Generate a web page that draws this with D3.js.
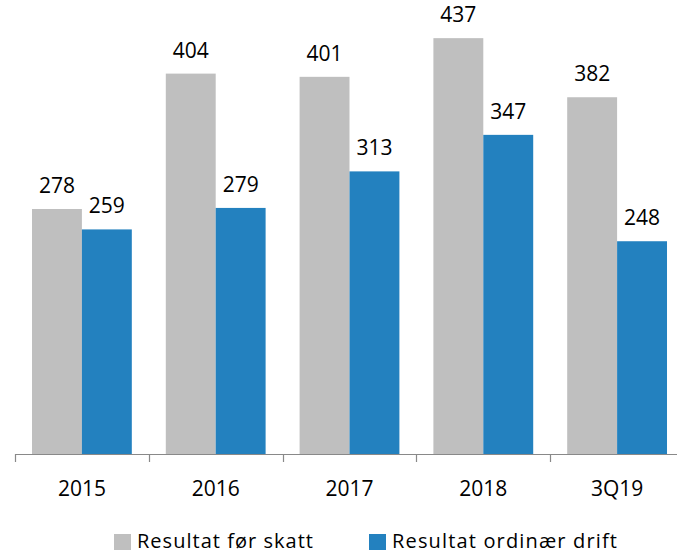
<!DOCTYPE html>
<html>
<head>
<meta charset="utf-8">
<script src="https://cdn.jsdelivr.net/npm/d3@7"></script>
<style>
  body { margin: 0; background: #fff; }
  svg { display: block; }
  text { font-family: "Open Sans", sans-serif; fill: #000; }
</style>
</head>
<body>
<div id="chart"></div>
<script>
// Data
const categories = ["2015", "2016", "2017", "2018", "3Q19"]
const resultatForSkatt = [278, 404, 401, 437, 382]
const resultatOrdinaerDrift = [259, 279, 313, 347, 248]
const seriesNames = ["Resultat før skatt", "Resultat ordinær drift"]
const seriesColors = ["#bfbfbf", "#2381bf"]

const width = 677
const height = 554

// Plot area: the value axis is not drawn, starts around 50
const xRange = [15, 684]
const baseline = 454

const svg = d3.select("#chart")
    .append("svg")
    .attr("width", width)
    .attr("height", height)

const x = d3.scaleBand()
    .domain(categories)
    .range(xRange)
    .paddingInner(0.254)
    .paddingOuter(0.127)

const xSub = d3.scaleBand()
    .domain([0, 1])
    .range([0, x.bandwidth()])

const y = d3.scaleLinear()
    .domain([50, 472.5])
    .range([baseline, 0])

const rows = categories.map((c, i) => ({
    cat: c,
    values: [resultatForSkatt[i], resultatOrdinaerDrift[i]]
}))

const groups = svg.append("g")
    .selectAll("g")
    .data(rows)
    .join("g")
    .attr("transform", d => translate(x(d.cat), 0))

groups.selectAll("rect")
    .data(d => d.values.map((v, s) => ({ v, s })))
    .join("rect")
    .attr("x", d => xSub(d.s))
    .attr("width", xSub.bandwidth())
    .attr("y", d => y(d.v))
    .attr("height", d => baseline - y(d.v))
    .attr("fill", d => seriesColors[d.s])

groups.selectAll("text")
    .data(d => d.values.map((v, s) => ({ v, s })))
    .join("text")
    .attr("x", d => xSub(d.s) + xSub.bandwidth() / 2)
    .attr("y", d => y(d.v) - 16)
    .attr("text-anchor", "middle")
    .style("font-size", "21px")
    .text(d => d.v)

// Category axis with ticks between groups
const step = x.step()
const axisG = svg.append("g")
axisG.append("line")
    .attr("x1", xRange[0]).attr("x2", width)
    .attr("y1", baseline + 0.5).attr("y2", baseline + 0.5)
    .attr("stroke", "#898989")
    .attr("stroke-width", 1.2)
axisG.selectAll("line.tick")
    .data(d3.range(categories.length + 1))
    .join("line")
    .attr("class", "tick")
    .attr("x1", i => Math.round(xRange[0] + i * step) + 0.5)
    .attr("x2", i => Math.round(xRange[0] + i * step) + 0.5)
    .attr("y1", baseline)
    .attr("y2", baseline + 8)
    .attr("stroke", "#898989")
    .attr("stroke-width", 1.2)
axisG.selectAll("text")
    .data(categories)
    .join("text")
    .attr("x", d => x(d) + x.bandwidth() / 2)
    .attr("y", 496)
    .attr("text-anchor", "middle")
    .style("font-size", "21px")
    .text(d => d)

// Legend (kept just inside the bottom edge)
const legendItems = [
    { name: seriesNames[0], color: seriesColors[0], x: 114, len: 176 },
    { name: seriesNames[1], color: seriesColors[1], x: 369, len: 225 }
]
const legend = svg.append("g").selectAll("g")
    .data(legendItems)
    .join("g")
    .attr("transform", d => translate(d.x, 0))
legend.append("rect")
    .attr("x", 0).attr("y", 534)
    .attr("width", 17).attr("height", 16)
    .attr("fill", d => d.color)
legend.append("text")
    .attr("x", 23)
    .attr("y", 548)
    .style("font-size", "20px")
    .attr("textLength", d => d.len)
    .attr("lengthAdjust", "spacing")
    .text(d => d.name)

function translate(x, y) {
    return `translate(${x},${y})`
}
</script>
</body>
</html>
